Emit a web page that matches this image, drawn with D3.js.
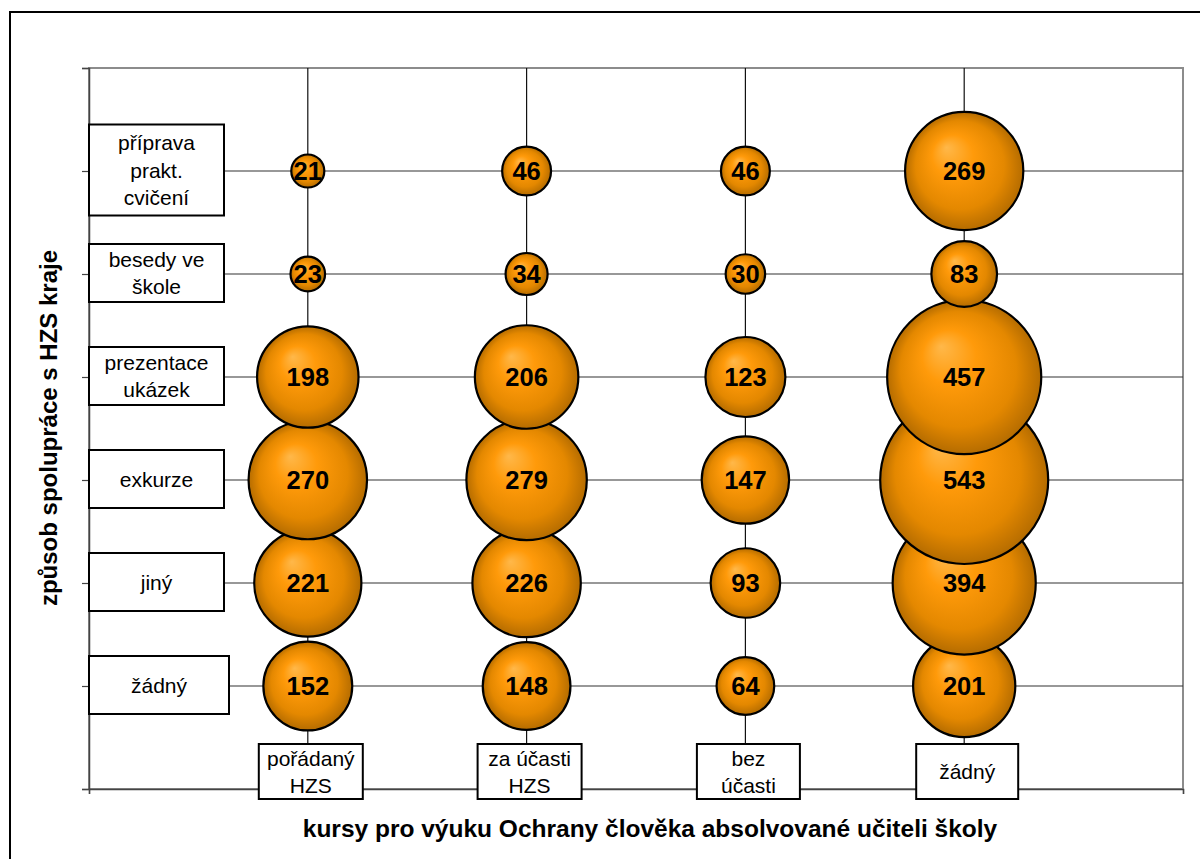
<!DOCTYPE html>
<html>
<head>
<meta charset="utf-8">
<script src="https://cdn.jsdelivr.net/npm/d3@7"></script>
<style>
  html, body { margin: 0; padding: 0; background: #fff; }
  svg { display: block; }
  text { font-family: "Liberation Sans", Arial, sans-serif; }
</style>
</head>
<body>
<svg id="chart" width="1200" height="859"></svg>
<script>
// ---- data ----
const xCategories = [["pořádaný", "HZS"], ["za účasti", "HZS"], ["bez", "účasti"], ["žádný"]];
const yCategories = [["žádný"], ["jiný"], ["exkurze"], ["prezentace", "ukázek"], ["besedy ve", "škole"], ["příprava", "prakt.", "cvičení"]];
// values per row (bottom to top), columns follow xCategories
const valZadny      = [152, 148, 64, 201];
const valJiny       = [221, 226, 93, 394];
const valExkurze    = [270, 279, 147, 543];
const valPrezentace = [198, 206, 123, 457];
const valBesedy     = [23, 34, 30, 83];
const valPriprava   = [21, 46, 46, 269];
const rows = [valZadny, valJiny, valExkurze, valPrezentace, valBesedy, valPriprava];
const xTitle = "kursy pro výuku Ochrany člověka absolvované učiteli školy";
const yTitle = "způsob spolupráce s HZS kraje";

// ---- layout ----
const svg = d3.select("#chart");
const pLeft = 89, pRight = 1183, pTop = 68, pBottom = 789;
const x = d3.scaleLinear().domain([0, 5]).range([pLeft, pRight]);
const y = d3.scaleLinear().domain([0, 7]).range([pBottom, pTop]);
const r = d3.scaleSqrt().domain([0, 543]).range([0, 84]);

const defs = svg.append("defs");
const grad = defs.append("radialGradient").attr("id", "ball")
  .attr("cx", "50%").attr("cy", "50%").attr("r", "50%")
  .attr("fx", "35%").attr("fy", "30%");
grad.append("stop").attr("offset", "0%").attr("stop-color", "#FFB84A");
grad.append("stop").attr("offset", "35%").attr("stop-color", "#FF9A0A");
grad.append("stop").attr("offset", "75%").attr("stop-color", "#E48800");
grad.append("stop").attr("offset", "100%").attr("stop-color", "#B56C00");

// outer border
svg.append("rect").attr("x", 10).attr("y", 12).attr("width", 1200).attr("height", 870)
  .attr("fill", "#fff").attr("stroke", "#000").attr("stroke-width", 2);

// plot border (gray)
svg.append("rect").attr("x", pLeft).attr("y", pTop).attr("width", pRight - pLeft).attr("height", pBottom - pTop)
  .attr("fill", "none").attr("stroke", "#8c8c8c").attr("stroke-width", 2);

// horizontal gridlines
svg.append("g").selectAll("line").data(d3.range(1, 7)).join("line")
  .attr("x1", pLeft).attr("x2", pRight)
  .attr("y1", d => y(d)).attr("y2", d => y(d))
  .attr("stroke", "#333").attr("stroke-width", 1.2);

// vertical lines
svg.append("g").selectAll("line").data(d3.range(1, 5)).join("line")
  .attr("x1", d => x(d)).attr("x2", d => x(d))
  .attr("y1", pTop).attr("y2", pBottom)
  .attr("stroke", "#111").attr("stroke-width", 1.2);

// y axis
const yAxis = d3.axisLeft(y).tickValues(d3.range(0, 8)).tickSize(7).tickFormat("");
const gy = svg.append("g").attr("transform", `translate(${pLeft},0)`).call(yAxis);
gy.select(".domain").attr("stroke", "#444").attr("stroke-width", 1.5);
gy.selectAll(".tick line").attr("stroke", "#444").attr("stroke-width", 1.2);

// x axis
const xAxis = d3.axisBottom(x).tickValues([0, 5]).tickSize(5).tickFormat("");
const gx = svg.append("g").attr("transform", `translate(0,${pBottom})`).call(xAxis);
gx.select(".domain").attr("stroke", "#444").attr("stroke-width", 1.5);
gx.selectAll(".tick line").attr("stroke", "#444").attr("stroke-width", 1.2);

// bubbles
const bubbles = [];
rows.forEach((vals, ri) => vals.forEach((v, ci) => bubbles.push({ xv: ci + 1, yv: ri + 1, v })));
const gb = svg.append("g");
const bg = gb.selectAll("g").data(bubbles).join("g")
  .attr("transform", d => `translate(${x(d.xv)},${y(d.yv)})`);
bg.append("circle").attr("r", d => r(d.v))
  .attr("fill", "url(#ball)").attr("stroke", "#000").attr("stroke-width", 2.2);
bg.append("text").text(d => d.v)
  .attr("text-anchor", "middle").attr("dy", "0.36em")
  .attr("font-weight", "bold").attr("font-size", 25.5).attr("fill", "#000");

// y category label boxes
const lh = 27.5;
const yBoxW = [140, 135, 135, 135, 135, 135];
yCategories.forEach((lines, i) => {
  const cy = y(i + 1) - 1;
  const h = lines.length > 2 ? 91 : 58;
  const g = svg.append("g");
  g.append("rect").attr("x", pLeft).attr("y", cy - h / 2).attr("width", yBoxW[i]).attr("height", h)
    .attr("fill", "#fff").attr("stroke", "#000").attr("stroke-width", 2);
  const t = g.append("text").attr("text-anchor", "middle").attr("font-size", 21).attr("fill", "#000");
  lines.forEach((s, k) => {
    t.append("tspan").attr("x", pLeft + yBoxW[i] / 2)
      .attr("y", cy + (k - (lines.length - 1) / 2) * lh).attr("dy", "0.36em").text(s);
  });
});

// x category label boxes
const xBoxW = [104, 104, 103, 102];
xCategories.forEach((lines, i) => {
  const cx = x(i + 1) + 3;
  const cy = 771.5;
  const g = svg.append("g");
  g.append("rect").attr("x", cx - xBoxW[i] / 2).attr("y", 744).attr("width", xBoxW[i]).attr("height", 55)
    .attr("fill", "#fff").attr("stroke", "#000").attr("stroke-width", 2);
  const t = g.append("text").attr("text-anchor", "middle").attr("font-size", 21).attr("fill", "#000");
  lines.forEach((s, k) => {
    t.append("tspan").attr("x", cx)
      .attr("y", cy + (k - (lines.length - 1) / 2) * 27).attr("dy", "0.36em").text(s);
  });
});

// axis titles
svg.append("text").attr("x", 650).attr("y", 837).attr("text-anchor", "middle")
  .attr("font-weight", "bold").attr("font-size", 24.5).text(xTitle);
svg.append("text").attr("transform", "translate(48,428) rotate(-90)").attr("text-anchor", "middle")
  .attr("dy", "0.36em").attr("font-weight", "bold").attr("font-size", 24).text(yTitle);
</script>
</body>
</html>
